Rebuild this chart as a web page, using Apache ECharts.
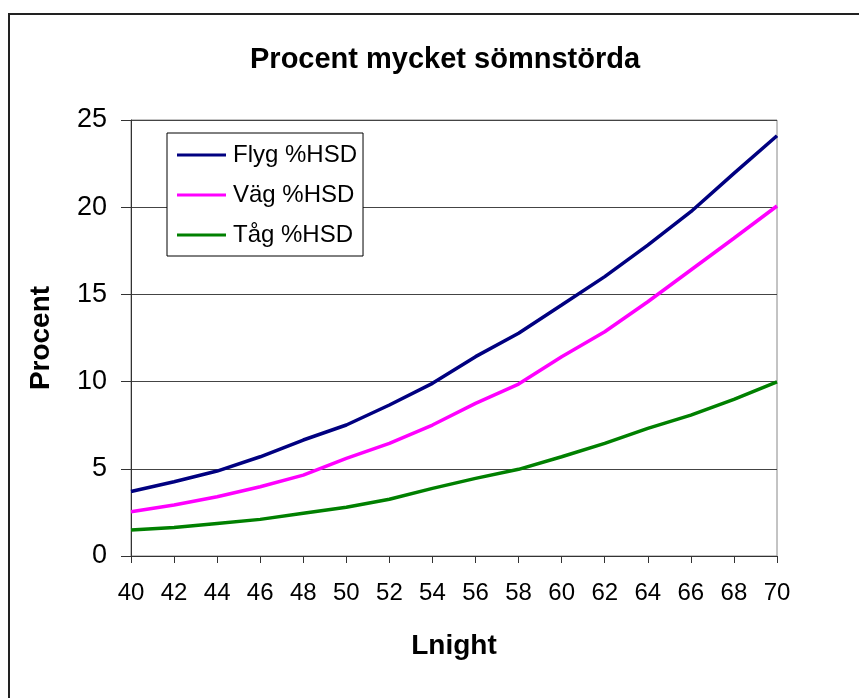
<!DOCTYPE html>
<html>
<head>
<meta charset="utf-8">
<script src="https://cdn.jsdelivr.net/npm/echarts@6/dist/echarts.min.js"></script>
<style>
html,body{margin:0;padding:0;background:#fff;}
#c{width:859px;height:698px;}
</style>
</head>
<body>
<div id="c"></div>
<script>
var categories = ['40','42','44','46','48','50','52','54','56','58','60','62','64','66','68','70'];
var flyg = [3.7, 4.26, 4.87, 5.69, 6.65, 7.51, 8.66, 9.9, 11.43, 12.77, 14.39, 16.02, 17.83, 19.74, 21.94, 24.1];
var vag  = [2.54, 2.92, 3.4, 3.97, 4.64, 5.6, 6.46, 7.51, 8.75, 9.86, 11.43, 12.86, 14.58, 16.4, 18.22, 20.07];
var tag  = [1.49, 1.64, 1.87, 2.1, 2.45, 2.79, 3.25, 3.88, 4.45, 4.97, 5.69, 6.46, 7.32, 8.08, 8.98, 9.99];
var seriesNames = ['Flyg %HSD', 'Väg %HSD', 'Tåg %HSD'];
var yTicks = [0, 5, 10, 15, 20, 25];

var FONT = '"Liberation Sans", Arial, sans-serif';
var chart = echarts.init(document.getElementById('c'), null, {renderer: 'canvas'});
var option = {
  animation: false,
  backgroundColor: '#fff',
  textStyle: {fontFamily: FONT},
  graphic: [{
    type: 'rect', z: 100, silent: true,
    shape: {x: 9, y: 14, width: 900, height: 800},
    style: {fill: 'none', stroke: '#222', lineWidth: 2}
  }],
  title: {
    text: 'Procent mycket sömnstörda',
    left: 245, top: 40,
    textStyle: {fontFamily: FONT, fontSize: 29, fontWeight: 'bold', color: '#000'}
  },
  legend: {
    orient: 'vertical',
    left: 167, top: 133,
    padding: [10, 6, 9, 10],
    itemWidth: 49, itemHeight: 3, itemGap: 16,
    icon: 'rect',
    borderColor: '#000', borderWidth: 1,
    backgroundColor: '#fff',
    textStyle: {fontFamily: FONT, fontSize: 24, color: '#000', padding: [0,0,0,2]},
    data: seriesNames
  },
  grid: {
    left: 131, right: 82, top: 120, bottom: 142,
    show: true, borderColor: '#888', borderWidth: 1,
    containLabel: false
  },
  xAxis: {
    type: 'category',
    data: categories,
    boundaryGap: false,
    name: 'Lnight',
    nameLocation: 'middle',
    nameGap: 76,
    nameTextStyle: {fontFamily: FONT, fontSize: 28, fontWeight: 'bold', color: '#000'},
    axisLine: {lineStyle: {color: '#333', width: 1}},
    axisTick: {show: true, length: 7, lineStyle: {color: '#333'}},
    axisLabel: {fontFamily: FONT, fontSize: 24, color: '#000', margin: 25, interval: 0},
    splitLine: {show: false}
  },
  yAxis: {
    type: 'value',
    min: 0, max: 25, interval: 5,
    name: 'Procent',
    nameLocation: 'middle',
    nameGap: 76,
    nameRotate: 90,
    nameTextStyle: {fontFamily: FONT, fontSize: 28, fontWeight: 'bold', color: '#000'},
    axisLine: {show: true, lineStyle: {color: '#333', width: 1}},
    axisTick: {show: true, length: 10, lineStyle: {color: '#333'}},
    axisLabel: {fontFamily: FONT, fontSize: 27, color: '#000', margin: 24,
      formatter: function (v) { return yTicks.indexOf(v) >= 0 ? String(v) : ''; }},
    splitLine: {show: true, lineStyle: {color: '#444', width: 1}}
  },
  series: [
    {name: seriesNames[0], type: 'line', data: flyg, showSymbol: false, symbol: 'none',
     lineStyle: {color: '#000080', width: 3.5}, itemStyle: {color: '#000080'}},
    {name: seriesNames[1], type: 'line', data: vag, showSymbol: false, symbol: 'none',
     lineStyle: {color: '#FF00FF', width: 3.5}, itemStyle: {color: '#FF00FF'}},
    {name: seriesNames[2], type: 'line', data: tag, showSymbol: false, symbol: 'none',
     lineStyle: {color: '#008000', width: 3.5}, itemStyle: {color: '#008000'}}
  ]
};
chart.setOption(option);
</script>
</body>
</html>
